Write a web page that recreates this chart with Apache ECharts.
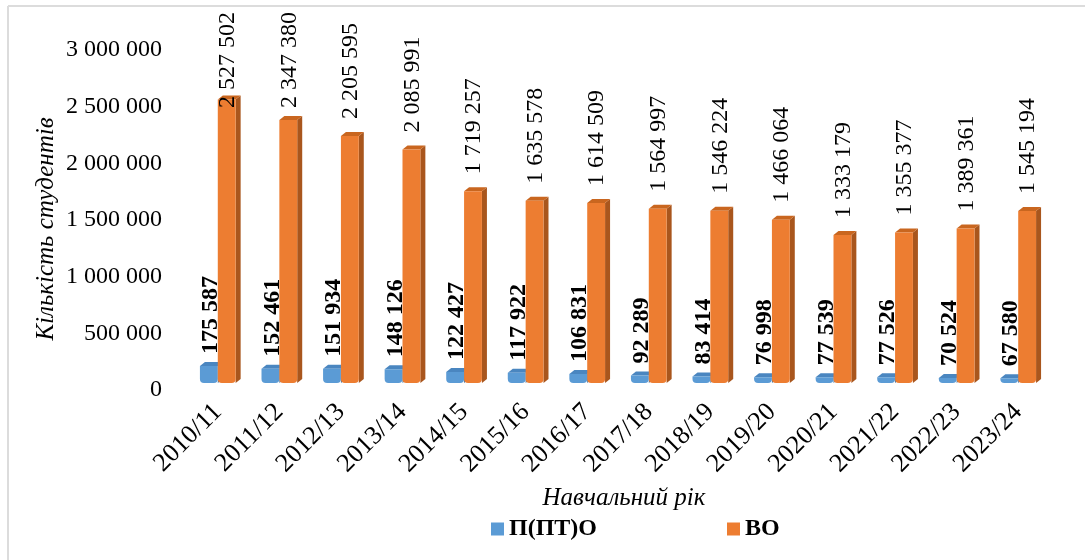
<!DOCTYPE html>
<html>
<head>
<meta charset="utf-8">
<script src="https://cdn.jsdelivr.net/npm/echarts@6/dist/echarts.min.js"></script>
<style>
html,body{margin:0;padding:0;background:#fff;}
#chart{width:1085px;height:560px;}
</style>
</head>
<body>
<div id="chart"></div>
<script>
const years = ['2010/11','2011/12','2012/13','2013/14','2014/15','2015/16','2016/17','2017/18','2018/19','2019/20','2020/21','2021/22','2022/23','2023/24'];
const pptoValues = [175587,152461,151934,148126,122427,117922,106831,92289,83414,76998,77539,77526,70524,67580];
const voValues = [2527502,2347380,2205595,2085991,1719257,1635578,1614509,1564997,1546224,1466064,1333179,1355377,1389361,1545194];
const yTicks = [0,500000,1000000,1500000,2000000,2500000,3000000];

const FONT = '"Liberation Serif", "Times New Roman", serif';
function fmt(v){ return String(v).replace(/\B(?=(\d{3})+(?!\d))/g, ' '); }
function textLen(s, fs){ let n=0; for (const ch of s){ n += (ch===' ') ? fs*0.25 : fs*0.5; } return n; }

function makeRender(kind){
  const pal = kind === 0
    ? {front:'#5B9BD5', side:'#41719C', top:'#4A86C0'}
    : {front:'#ED7D31', side:'#A9561D', top:'#C9661F'};
  return function(params, api){
    const i = api.value(0), v = api.value(1);
    const band = api.size([1,0])[0];
    const c = api.coord([i, v]);
    const c0 = api.coord([i, 0]);
    const w = band * 0.29;
    const x = kind === 0 ? c[0] - w : c[0];
    const yT = c[1] - 4, yB = c0[1] - 7;
    const dx = 5, dy = 4;
    const s = fmt(v);
    const children = [
      {type:'polygon', shape:{points:[[x+w,yT],[x+w+dx,yT-dy],[x+w+dx,yB-dy],[x+w,yB]]}, style:{fill:pal.side}},
      {type:'polygon', shape:{points:[[x,yT],[x+dx,yT-dy],[x+w+dx,yT-dy],[x+w,yT]]}, style:{fill:pal.top}},
      {type:'rect', shape:{x:x, y:yT, width:w, height:yB-yT, r:[0,0,4,4]}, style:{fill:pal.front}}
    ];
    let ly, lx;
    if (kind === 1) {
      const L = textLen(s, 24);
      ly = Math.max(yT - dy - 13, 12 + L);
      lx = x + w/2 + 1;
    } else {
      ly = yT - dy - 8;
      lx = x + w/2 + 2;
    }
    children.push({
      type:'text', x:lx, y:ly, rotation:Math.PI/2,
      style:{text:s, fill:'#000', fontFamily:FONT, fontSize:24, fontWeight:(kind===0?'bold':'normal'), align:'left', verticalAlign:'middle'},
      z2: 10
    });
    return {type:'group', children:children};
  };
}

const chart = echarts.init(document.getElementById('chart'));
chart.setOption({
  backgroundColor:'#fff',
  animation:false,
  textStyle:{fontFamily:FONT, color:'#000'},
  grid:{left:187, right:36, top:50, bottom:170},
  legend:{
    left:486, top:512, itemWidth:13, itemHeight:13, itemGap:130, icon:'rect',
    textStyle:{fontFamily:FONT, fontSize:24, fontWeight:'bold', color:'#000'},
    data:['П(ПТ)О','ВО']
  },
  xAxis:{
    type:'category', data:years,
    axisLine:{show:false}, axisTick:{show:false},
    axisLabel:{rotate:45, fontFamily:FONT, fontSize:26, color:'#000', margin:18, interval:0}
  },
  yAxis:{
    type:'value', min:0, max:3000000, interval:500000,
    splitLine:{show:false}, axisLine:{show:false}, axisTick:{show:false},
    axisLabel:{fontFamily:FONT, fontSize:24, color:'#000', margin:25, formatter:function(v){return yTicks.indexOf(v)>=0 ? fmt(v) : '';}}
  },
  graphic:[
    {type:'line', shape:{x1:8,y1:6,x2:1085,y2:6}, style:{stroke:'#dcdcdc', lineWidth:2}},
    {type:'line', shape:{x1:8,y1:6,x2:8,y2:560}, style:{stroke:'#dcdcdc', lineWidth:2}},
    {type:'text', x:46, y:229, rotation:Math.PI/2, style:{text:'Кількість студентів', fontFamily:FONT, fontSize:25, fontStyle:'italic', fill:'#000', align:'center', verticalAlign:'middle'}},
    {type:'text', x:624, y:498, style:{text:'Навчальний рік', fontFamily:FONT, fontSize:25, fontStyle:'italic', fill:'#000', align:'center', verticalAlign:'middle'}}
  ],
  series:[
    {name:'П(ПТ)О', type:'custom', itemStyle:{color:'#5B9BD5'}, renderItem:makeRender(0), data:pptoValues.map((v,i)=>[i,v]), encode:{x:0,y:1}, clip:false},
    {name:'ВО', type:'custom', itemStyle:{color:'#ED7D31'}, renderItem:makeRender(1), data:voValues.map((v,i)=>[i,v]), encode:{x:0,y:1}, clip:false}
  ]
});
</script>
</body>
</html>
